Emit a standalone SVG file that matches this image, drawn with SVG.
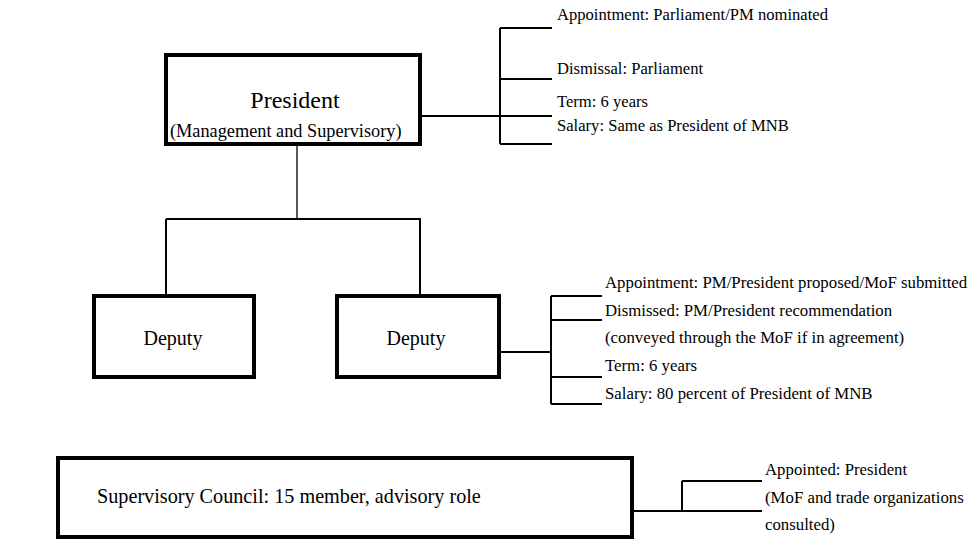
<svg xmlns="http://www.w3.org/2000/svg" width="976" height="540" viewBox="0 0 976 540" font-family="'Liberation Serif','Times New Roman',serif">
<style>
.box{fill:#fff;stroke:#000;stroke-width:4}
.ln{fill:none;stroke:#000;stroke-width:2}
.thin{fill:none;stroke:#000;stroke-width:1.3}
text{font-family:'Liberation Serif','Times New Roman',serif;fill:#000}
.top{font-size:16.6px}
.side{font-size:16.8px}
.mid{text-anchor:middle}
</style>
<rect width="976" height="540" fill="#fff"/>
<g id="connectors">
<path class="thin" d="M297,146 V219"/>
<path class="ln" d="M166,219 H421 M166,219 V294 M420,219 V294"/>
<path class="ln" d="M422,116 H500 M500,28 V144 M500,28 H552 M500,79 H552 M500,116 H552 M500,144 H552"/>
<path class="ln" d="M501,352 H551 M551,296 V404 M551,296 H602 M551,320 H602 M551,377 H602 M551,404 H602"/>
<path class="ln" d="M632,511 H682 M682,481 V511 M682,481 H762 M682,511 H762"/>
</g>
<g id="president">
<rect class="box" x="166" y="55" width="254" height="89"/>
<text class="mid" x="295" y="108" font-size="24">President</text>
<text x="170" y="137" font-size="18.3">(Management and Supervisory)</text>
</g>
<g id="president-details">
<text class="top" x="557" y="20">Appointment: Parliament/PM nominated</text>
<text class="top" x="557" y="74">Dismissal: Parliament</text>
<text class="top" x="557" y="107">Term: 6 years</text>
<text class="top" x="557" y="131">Salary: Same as President of MNB</text>
</g>
<g id="deputy1">
<rect class="box" x="94" y="296" width="160" height="81"/>
<text class="mid" x="173" y="345" font-size="20">Deputy</text>
</g>
<g id="deputy2">
<rect class="box" x="337" y="296" width="162" height="81"/>
<text class="mid" x="416" y="345" font-size="20">Deputy</text>
</g>
<g id="deputy-details">
<text class="side" x="605" y="288">Appointment: PM/President proposed/MoF submitted</text>
<text class="side" x="605" y="315.5">Dismissed: PM/President recommendation</text>
<text class="side" x="605" y="343">(conveyed through the MoF if in agreement)</text>
<text class="side" x="605" y="371">Term: 6 years</text>
<text class="side" x="605" y="399">Salary: 80 percent of President of MNB</text>
</g>
<g id="council">
<rect class="box" x="58" y="458" width="574" height="79"/>
<text x="97" y="503" font-size="20.2">Supervisory Council: 15 member, advisory role</text>
</g>
<g id="council-details">
<text class="side" x="765" y="475" font-size="17">Appointed: President</text>
<text class="side" x="765" y="503" font-size="17">(MoF and trade organizations</text>
<text class="side" x="765" y="530" font-size="17">consulted)</text>
</g>
</svg>
